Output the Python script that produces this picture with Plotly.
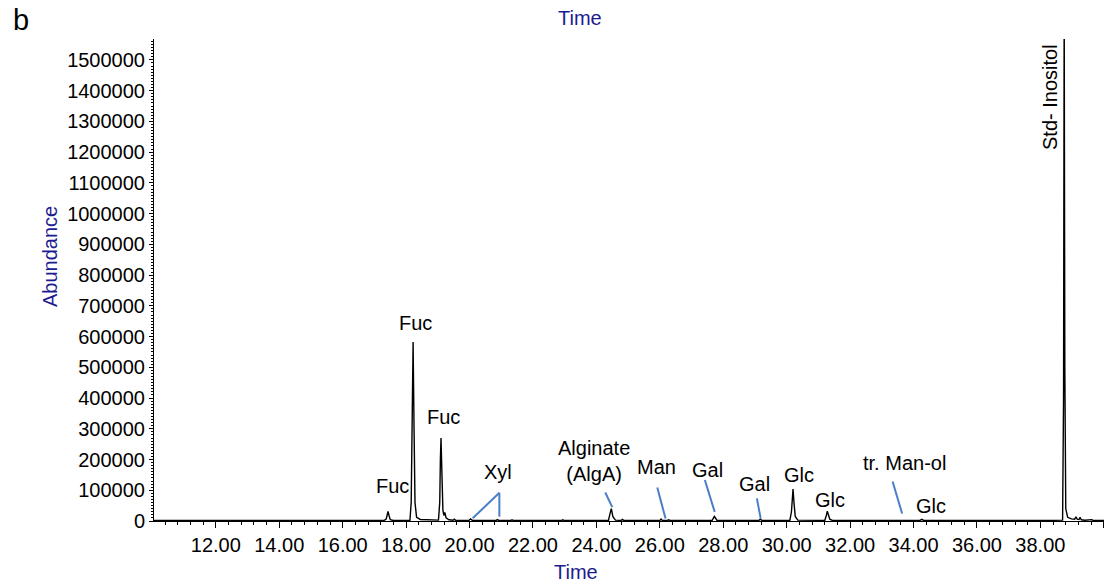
import plotly.graph_objects as go

# ---- data (retention time in min, abundance) ----
rt = [10.05, 17.30, 17.37, 17.40, 17.43, 17.46, 17.50, 17.60,
      18.12, 18.16, 18.19, 18.22, 18.25, 18.28, 18.33, 18.45,
      19.02, 19.06, 19.08, 19.10, 19.13, 19.16, 19.19, 19.22, 19.26, 19.35, 19.48, 19.52, 19.56,
      19.98, 20.03, 20.09, 20.84, 20.88, 20.92, 21.30, 21.34, 21.38,
      22.28, 22.32, 22.36, 22.90, 22.94, 22.98,
      24.38, 24.42, 24.47, 24.52, 24.60, 24.78, 24.82, 24.86,
      25.40, 25.44, 25.48, 26.00, 26.04, 26.08, 26.24, 26.28, 26.32,
      27.18, 27.22, 27.26, 27.65, 27.72, 27.80, 29.12, 29.17, 29.22,
      30.10, 30.15, 30.18, 30.20, 30.23, 30.27, 30.35,
      31.20, 31.25, 31.28, 31.31, 31.36, 31.44,
      33.60, 33.67, 33.74, 34.20, 34.26, 34.32,
      38.30, 38.70, 38.73, 38.75, 38.77, 38.80, 38.86, 38.98,
      39.08, 39.12, 39.16, 39.22, 39.25, 39.29, 39.40, 39.58, 39.62, 39.66, 40.10]
abundance = [1500, 1500, 6000, 20000, 31000, 18000, 4000, 1800,
             2500, 60000, 330000, 582000, 300000, 60000, 12000, 5000,
             3000, 60000, 200000, 270000, 150000, 35000, 18000, 28000, 10000, 4000, 2500, 6000, 2500,
             2000, 7000, 2000, 1800, 4500, 1800, 1500, 4000, 1500,
             1500, 2500, 1500, 1500, 4000, 1500,
             2000, 20000, 40000, 14000, 3000, 2000, 5000, 2000,
             1500, 3000, 1500, 1800, 6500, 2000, 1800, 4000, 1800,
             1500, 2800, 1500, 2000, 15000, 2500, 1800, 6000, 1800,
             2000, 30000, 80000, 104000, 60000, 15000, 3000,
             2000, 18000, 32000, 22000, 6000, 2000,
             1800, 4000, 1800, 1800, 5500, 1800,
             2000, 3000, 400000, 1700000, 500000, 40000, 12000, 7000,
             6000, 14000, 6000, 5000, 12000, 4000, 2500, 2500, 4500, 2000, 2000]

# peak labels (text, time, abundance)
label_text = ["Fuc", "Fuc", "Fuc", "Xyl", "Alginate<br>(AlgA)", "Man", "Gal", "Gal",
              "Glc", "Glc", "tr. Man-ol", "Glc"]
label_rt = [17.56, 18.28, 19.17, 20.91, 23.92, 25.89, 27.51, 28.97, 30.40, 31.37, 33.71, 34.55]
label_ab = [113900, 645000, 339300, 160400, 196800, 175300, 166600, 120400,
            150000, 67300, 188700, 48800]

# callout segments (x0, y0, x1, y1) in time / abundance
callouts = [
    (20.10, 8800, 20.94, 92100),
    (20.94, 92100, 20.94, 14000),
    (24.28, 92700, 24.50, 45200),
    (25.92, 109000, 26.18, 7800),
    (27.42, 133400, 27.73, 29600),
    (29.06, 73800, 29.18, 7800),
    (33.34, 128800, 33.64, 24100),
]

FONT = "Arial, Liberation Sans, sans-serif"
TITLE_BLUE = "#1c1c90"

fig = go.Figure()
fig.add_trace(go.Scatter(x=rt, y=abundance, mode="lines",
                         line=dict(color="black", width=1.4),
                         hoverinfo="skip", showlegend=False))

annotations = []
for t, x, y in zip(label_text, label_rt, label_ab):
    annotations.append(dict(x=x, y=y, xref="x", yref="y", text=t, showarrow=False,
                            font=dict(family=FONT, size=20, color="black"),
                            xanchor="center", yanchor="middle"))
annotations.append(dict(x=38.28, y=1380300, xref="x", yref="y", text="Std- Inositol",
                        showarrow=False, textangle=-90,
                        font=dict(family=FONT, size=20, color="black"),
                        xanchor="center", yanchor="middle"))
annotations.append(dict(x=0.447, y=1.0436, xref="paper", yref="paper", text="Time",
                        showarrow=False, font=dict(family=FONT, size=20, color=TITLE_BLUE),
                        xanchor="center", yanchor="middle"))
annotations.append(dict(x=0.443, y=-0.1058, xref="paper", yref="paper", text="Time",
                        showarrow=False, font=dict(family=FONT, size=20, color=TITLE_BLUE),
                        xanchor="center", yanchor="middle"))
annotations.append(dict(x=-0.1091, y=0.5477, xref="paper", yref="paper", text="Abundance",
                        showarrow=False, textangle=-90,
                        font=dict(family=FONT, size=20, color=TITLE_BLUE),
                        xanchor="center", yanchor="middle"))
annotations.append(dict(x=-0.1490, y=1.0394, xref="paper", yref="paper", text="b",
                        showarrow=False, font=dict(family=FONT, size=29, color="black"),
                        xanchor="left", yanchor="middle", borderpad=0))

shapes = [dict(type="line", xref="x", yref="y", x0=a, y0=b, x1=c, y1=d,
               line=dict(color="#4a7ec8", width=2)) for a, b, c, d in callouts]

# the page body adds an 8px margin, so the figure is 8px smaller and margins are offset
fig.update_layout(
    width=1104, height=578,
    margin=dict(l=146, r=5, t=31, b=65),
    paper_bgcolor="white", plot_bgcolor="white",
    annotations=annotations, shapes=shapes,
    xaxis=dict(range=[10.05, 40.1], dtick=2, tick0=12, tickformat=".2f",
               showgrid=False, zeroline=False, showline=True, linecolor="black", linewidth=1,
               ticks="outside", ticklen=6, tickcolor="black",
               minor=dict(dtick=0.4, tick0=12, ticks="outside", ticklen=3, tickcolor="black",
                          showgrid=False),
               tickfont=dict(family=FONT, size=20, color="black")),
    yaxis=dict(range=[0, 1568000], dtick=100000, tick0=0, tickformat="d",
               showgrid=False, zeroline=False, showline=True, linecolor="black", linewidth=1,
               ticks="outside", ticklen=4, tickcolor="black",
               minor=dict(dtick=10000, ticks="outside", ticklen=2, tickcolor="black",
                          showgrid=False),
               tickfont=dict(family=FONT, size=20, color="black")),
)

fig.write_html("out.html")
